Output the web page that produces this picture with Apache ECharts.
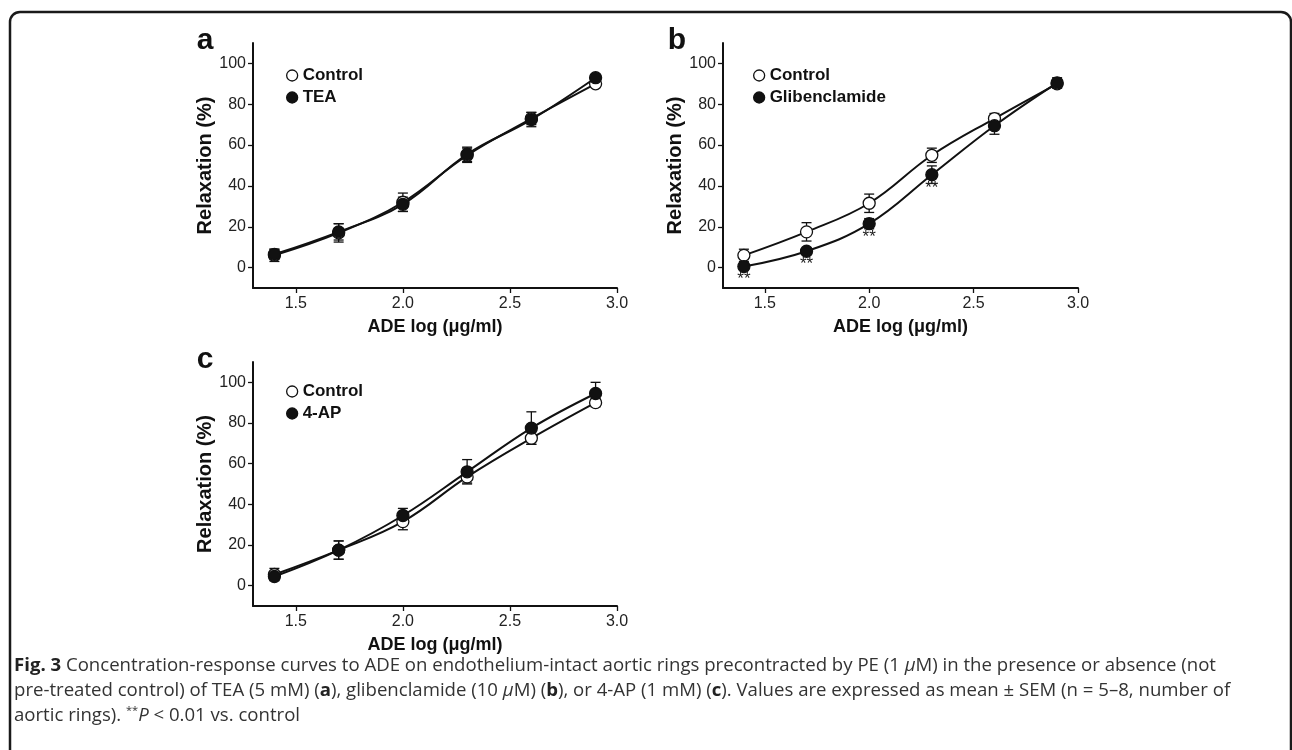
<!DOCTYPE html>
<html>
<head>
<meta charset="utf-8">
<script src="https://cdn.jsdelivr.net/npm/echarts@6/dist/echarts.min.js"></script>
<style>
  html, body { margin: 0; padding: 0; background: #fff; }
  #chart { width: 1292px; height: 750px; }
</style>
</head>
<body>
<div id="chart"></div>
<script>
// ADE log dose (x) for every group
const doses = [1.4, 1.7, 2.0, 2.3, 2.6, 2.9];
const xTicks = [1.5, 2.0, 2.5, 3.0];
const yTicks = [0, 20, 40, 60, 80, 100];

// panel a: TEA
const aControl = [6, 17, 32, 55, 73, 90];
const aControlSem = [3, 4.5, 4.5, 3.5, 3, 1.5];
const aTea = [6.5, 17.5, 31, 55.5, 72.5, 93];
const aTeaSem = [2.5, 4, 3.5, 3.5, 3.5, 1.5];

// panel b: glibenclamide
const bControl = [6, 17.5, 31.5, 55, 73, 90];
const bControlSem = [3, 4.5, 4.5, 3.5, 2.5, 2];
const bGlib = [0.5, 8, 21.5, 45.5, 69.5, 90.5];
const bGlibSem = [1.5, 1.5, 2.5, 4.3, 4.2, 2.5];
const bGlibSig = ['**', '**', '**', '**', '', ''];

// panel c: 4-AP
const cControl = [5.5, 17.5, 31.5, 53.5, 72.5, 90];
const cControlSem = [3, 4.5, 4, 3, 3, 2];
const c4ap = [4.5, 17.5, 34.5, 56, 77.5, 94.5];
const c4apSem = [1.5, 4.5, 3.5, 6, 8, 5.5];

const FONT = '"Liberation Sans", Arial, sans-serif';
const INK = '#111';

const chart = echarts.init(document.getElementById('chart'));

const pair = (vals) => doses.map((d, i) => [d, vals[i]]);

function renderErr(params, api) {
  const x = api.value(0);
  const lo = api.coord([x, api.value(1)]);
  const hi = api.coord([x, api.value(2)]);
  const w = 5;
  const st = { stroke: INK, lineWidth: 1.3 };
  return {
    type: 'group',
    children: [
      { type: 'line', shape: { x1: lo[0], y1: lo[1], x2: hi[0], y2: hi[1] }, style: st },
      { type: 'line', shape: { x1: lo[0] - w, y1: lo[1], x2: lo[0] + w, y2: lo[1] }, style: st },
      { type: 'line', shape: { x1: hi[0] - w, y1: hi[1], x2: hi[0] + w, y2: hi[1] }, style: st }
    ]
  };
}

function errSeries(vals, sem, idx) {
  return {
    type: 'custom',
    name: 'err' + idx,
    xAxisIndex: idx,
    yAxisIndex: idx,
    renderItem: renderErr,
    encode: { x: 0, y: [1, 2] },
    data: doses.map((d, i) => [d, vals[i] - sem[i], vals[i] + sem[i]]),
    z: 1,
    silent: true
  };
}

function lineSeries(name, vals, idx, filled) {
  return {
    type: 'line',
    name: name,
    xAxisIndex: idx,
    yAxisIndex: idx,
    data: pair(vals),
    smooth: 0.4,
    symbol: 'circle',
    symbolSize: 12,
    showSymbol: true,
    lineStyle: { color: INK, width: 2 },
    itemStyle: { color: filled ? INK : '#fff', borderColor: INK, borderWidth: 1.3 },
    emphasis: { disabled: true },
    z: filled ? 4 : 3
  };
}

const grids = [
  { left: 253, top: 43, width: 364, height: 245 },
  { left: 723, top: 43, width: 355, height: 245 },
  { left: 253, top: 362, width: 364, height: 244 }
];

const xAxes = grids.map((g, i) => ({
  type: 'value',
  gridIndex: i,
  min: 1.3,
  max: 3.0,
  name: 'ADE log (μg/ml)',
  nameLocation: 'middle',
  nameGap: 30,
  nameTextStyle: { fontFamily: FONT, fontSize: 18, fontWeight: 'bold', color: INK },
  axisLine: { onZero: false, lineStyle: { color: INK, width: 2 } },
  axisTick: { customValues: xTicks, length: 5, lineStyle: { color: INK, width: 1.3 } },
  axisLabel: {
    customValues: xTicks, margin: 8, fontFamily: FONT, fontSize: 16, color: '#222',
    formatter: (v) => v.toFixed(1)
  },
  splitLine: { show: false }
}));

const yAxes = grids.map((g, i) => ({
  type: 'value',
  gridIndex: i,
  min: -10,
  max: 110,
  name: 'Relaxation (%)',
  nameLocation: 'middle',
  nameGap: 30,
  nameTextStyle: { fontFamily: FONT, fontSize: 20, fontWeight: 'bold', color: INK },
  axisLine: { onZero: false, lineStyle: { color: INK, width: 2 } },
  axisTick: { customValues: yTicks, length: 5, lineStyle: { color: INK, width: 1.3 } },
  axisLabel: { customValues: yTicks, margin: 7, fontFamily: FONT, fontSize: 16, color: '#222' },
  splitLine: { show: false }
}));

const legendText = { fontFamily: FONT, fontSize: 17, fontWeight: 'bold', color: INK };
const openIcon = { color: '#fff', borderColor: INK, borderWidth: 1.3 };
const fillIcon = { color: INK, borderColor: INK, borderWidth: 1.3 };
function legendAt(left, top, second) {
  return {
    orient: 'vertical',
    left: left,
    top: top,
    icon: 'circle',
    itemWidth: 11,
    itemHeight: 11,
    itemGap: 5,
    selectedMode: false,
    textStyle: legendText,
    data: [
      { name: 'Control', itemStyle: openIcon },
      { name: second, itemStyle: fillIcon }
    ]
  };
}

const glibSeries = lineSeries('Glibenclamide', bGlib, 1, true);
glibSeries.label = {
  show: true,
  position: 'bottom',
  distance: -2,
  fontFamily: FONT,
  fontSize: 17,
  color: '#222',
  formatter: (p) => bGlibSig[p.dataIndex]
};

const letter = (txt, x, y) => ({
  type: 'text',
  style: { text: txt, x: x, y: y, font: 'bold 30px ' + FONT, fill: INK, align: 'center', verticalAlign: 'middle' }
});

const captionFont = '"Open Sans", "DejaVu Sans", sans-serif';
const CAP = 18.6;
const capRich = {
  b: { fontFamily: captionFont, fontSize: CAP, fontWeight: 'bold', fill: '#222' },
  i: { fontFamily: captionFont, fontSize: CAP, fontStyle: 'italic', fill: '#333' },
  sup: { fontFamily: captionFont, fontSize: 11, fill: '#333', verticalAlign: 'top', padding: [0, 0, 11, 0] }
};
const capLine = (txt, y) => ({
  type: 'text',
  style: {
    text: txt, x: 14, y: y,
    fontFamily: captionFont, fontSize: CAP, fill: '#333',
    verticalAlign: 'middle', rich: capRich
  }
});

chart.setOption({
  animation: false,
  grid: grids,
  xAxis: xAxes,
  yAxis: yAxes,
  legend: [
    legendAt(281, 62, 'TEA'),
    legendAt(748, 62, 'Glibenclamide'),
    legendAt(281, 378, '4-AP')
  ],
  series: [
    errSeries(aControl, aControlSem, 0),
    errSeries(aTea, aTeaSem, 0),
    lineSeries('Control', aControl, 0, false),
    lineSeries('TEA', aTea, 0, true),
    errSeries(bControl, bControlSem, 1),
    errSeries(bGlib, bGlibSem, 1),
    lineSeries('Control', bControl, 1, false),
    glibSeries,
    errSeries(cControl, cControlSem, 2),
    errSeries(c4ap, c4apSem, 2),
    lineSeries('Control', cControl, 2, false),
    lineSeries('4-AP', c4ap, 2, true)
  ],
  graphic: [
    {
      type: 'rect',
      shape: { x: 10, y: 12, width: 1281, height: 780, r: 10 },
      style: { fill: 'none', stroke: '#1a1a1a', lineWidth: 2.5 },
      silent: true
    },
    letter('a', 205, 41),
    letter('b', 677, 41),
    letter('c', 205, 360),
    capLine('{b|Fig. 3} Concentration-response curves to ADE on endothelium-intact aortic rings precontracted by PE (1 {i|μ}M) in the presence or absence (not', 666),
    capLine('pre-treated control) of TEA (5 mM) ({b|a}), glibenclamide (10 {i|μ}M) ({b|b}), or 4-AP (1 mM) ({b|c}). Values are expressed as mean ± SEM (n = 5–8, number of', 691),
    capLine('aortic rings). {sup|**}{i|P} < 0.01 vs. control', 716)
  ]
});
</script>
</body>
</html>
